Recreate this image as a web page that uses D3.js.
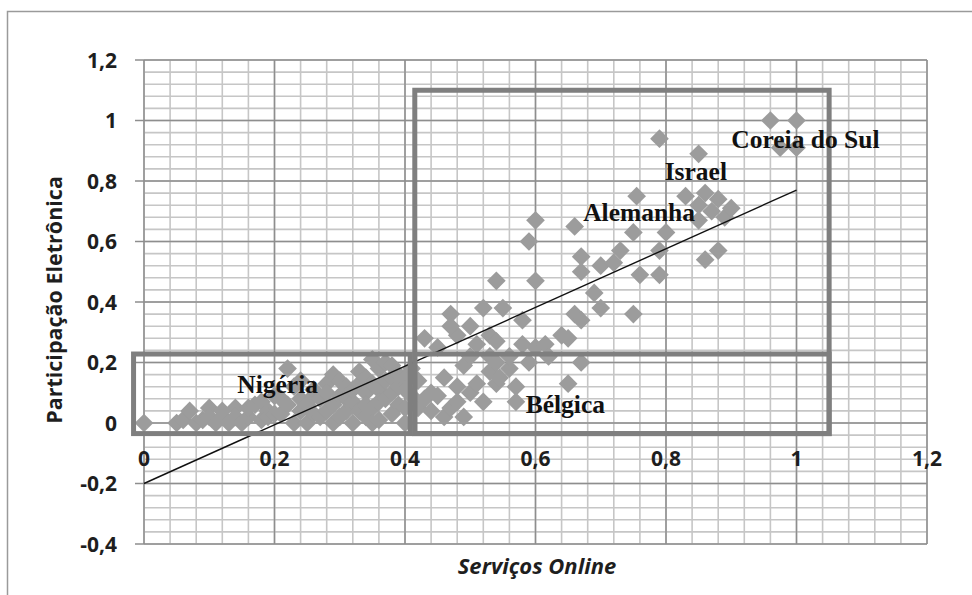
<!DOCTYPE html>
<html>
<head>
<meta charset="utf-8">
<script src="https://cdn.jsdelivr.net/npm/d3@7"></script>
<style>
  body { margin: 0; background: #fff; }
  svg { display: block; }
</style>
</head>
<body>
<div id="chart"></div>
<script>
// Ticks
const xTicks = [0, 0.2, 0.4, 0.6, 0.8, 1, 1.2];
const yTicks = [-0.4, -0.2, 0, 0.2, 0.4, 0.6, 0.8, 1, 1.2];

// Countries: [Serviços Online, Participação Eletrônica]
const points = [
  [0.00, 0.00], [0.05, 0.00], [0.06, 0.01], [0.07, 0.04], [0.08, 0.00], [0.09, 0.01],
  [0.10, 0.05], [0.10, 0.02], [0.11, 0.00], [0.12, 0.02], [0.12, 0.04], [0.13, 0.00],
  [0.14, 0.05], [0.14, 0.02], [0.15, 0.00], [0.16, 0.02], [0.16, 0.05], [0.17, 0.06],
  [0.18, 0.01], [0.18, 0.07], [0.19, 0.04], [0.19, 0.02], [0.20, 0.03], [0.20, 0.09],
  [0.21, 0.08], [0.21, 0.03], [0.22, 0.18], [0.22, 0.06], [0.23, 0.12], [0.23, 0.00],
  [0.24, 0.04], [0.24, 0.08], [0.24, 0.14], [0.25, 0.00], [0.25, 0.06], [0.26, 0.09],
  [0.26, 0.11], [0.26, 0.03], [0.27, 0.02], [0.27, 0.08], [0.28, 0.13], [0.28, 0.04],
  [0.28, 0.10], [0.29, 0.16], [0.29, 0.00], [0.29, 0.06], [0.30, 0.09], [0.30, 0.02],
  [0.30, 0.14], [0.31, 0.12], [0.31, 0.04], [0.31, 0.08], [0.32, 0.07], [0.32, 0.00],
  [0.32, 0.11], [0.33, 0.04], [0.33, 0.13], [0.33, 0.17], [0.34, 0.10], [0.34, 0.15],
  [0.34, 0.06], [0.34, 0.02], [0.35, 0.21], [0.35, 0.05], [0.35, 0.00], [0.35, 0.13],
  [0.36, 0.18], [0.36, 0.01], [0.36, 0.11], [0.36, 0.07], [0.37, 0.14], [0.37, 0.08],
  [0.37, 0.20], [0.38, 0.19], [0.38, 0.03], [0.38, 0.10], [0.38, 0.15], [0.39, 0.12],
  [0.39, 0.06], [0.39, 0.16], [0.40, 0.15], [0.40, 0.00], [0.40, 0.05], [0.40, 0.11],
  [0.41, 0.09], [0.41, 0.18],
  [0.42, 0.14], [0.42, 0.05], [0.43, 0.08], [0.44, 0.04], [0.43, 0.28], [0.44, 0.10],
  [0.45, 0.25], [0.45, 0.09], [0.46, 0.15], [0.46, 0.02], [0.47, 0.05], [0.48, 0.07],
  [0.48, 0.12], [0.48, 0.29], [0.49, 0.02], [0.49, 0.19], [0.47, 0.36], [0.47, 0.32],
  [0.50, 0.32], [0.50, 0.22], [0.50, 0.10], [0.51, 0.13], [0.51, 0.26], [0.52, 0.07],
  [0.52, 0.38], [0.53, 0.29], [0.53, 0.22], [0.53, 0.17], [0.54, 0.27], [0.54, 0.20],
  [0.54, 0.13], [0.545, 0.15], [0.55, 0.38], [0.54, 0.47], [0.56, 0.18], [0.56, 0.22],
  [0.57, 0.07], [0.57, 0.12], [0.58, 0.26], [0.58, 0.34], [0.59, 0.20], [0.60, 0.25],
  [0.60, 0.47], [0.59, 0.60], [0.60, 0.67], [0.615, 0.26], [0.62, 0.22], [0.64, 0.29],
  [0.65, 0.13], [0.65, 0.28], [0.67, 0.20], [0.66, 0.36], [0.67, 0.34], [0.69, 0.43],
  [0.70, 0.38], [0.67, 0.50], [0.70, 0.52], [0.67, 0.55], [0.72, 0.53], [0.66, 0.65],
  [0.75, 0.36], [0.73, 0.57], [0.75, 0.63], [0.76, 0.49], [0.755, 0.75], [0.79, 0.49],
  [0.79, 0.57], [0.80, 0.63], [0.79, 0.94], [0.83, 0.75], [0.85, 0.72], [0.86, 0.76],
  [0.88, 0.74], [0.87, 0.70], [0.89, 0.68], [0.85, 0.67], [0.90, 0.71], [0.86, 0.54],
  [0.88, 0.57], [0.85, 0.89], [0.96, 1.00], [1.00, 1.00], [0.975, 0.91], [1.00, 0.91]
];

// Linear trend
const trend = [[0, -0.2], [1.0, 0.77]];

// Highlight boxes [x0, x1, y0, y1]
const boxes = [
  [0.415, 1.05, -0.035, 1.10],
  [-0.016, 0.408, -0.035, 0.228],
  [0.415, 1.05, -0.035, 0.228]
];

// Country labels: text, x, y (left / baseline)
const labels = [
  ["Coreia do Sul", 0.900, 0.909],
  ["Israel", 0.798, 0.803],
  ["Alemanha", 0.673, 0.669],
  ["Nigéria", 0.143, 0.099],
  ["Bélgica", 0.585, 0.034]
];

const W = 972, H = 595;
const svg = d3.select('#chart').append('svg')
  .attr('width', W)
  .attr('height', H);

const x = d3.scaleLinear().domain([0, 1.2]).range([144, 927]);
const y = d3.scaleLinear().domain([-0.4, 1.2]).range([544, 60]);

const fmt = d => String(+d.toFixed(1)).replace('.', ',');
const sans = '"Open Sans", "Liberation Sans", sans-serif';

// outer chart border
svg.append('rect')
  .attr('x', 7.5).attr('y', 11.5)
  .attr('width', W).attr('height', H)
  .attr('fill', 'none')
  .attr('stroke', '#9a9a9a')
  .attr('stroke-width', 1.5);

// minor grid
const minorX = d3.range(0, 31).map(i => i * 0.04);
const minorY = d3.range(0, 41).map(i => -0.4 + i * 0.04);

svg.append('g').selectAll('line').data(minorX).join('line')
  .attr('x1', d => x(d)).attr('x2', d => x(d))
  .attr('y1', y(1.2)).attr('y2', y(-0.4))
  .attr('stroke', '#c6c6c6').attr('stroke-width', 1.6);

svg.append('g').selectAll('line').data(minorY).join('line')
  .attr('x1', x(0)).attr('x2', x(1.2))
  .attr('y1', d => y(d)).attr('y2', d => y(d))
  .attr('stroke', '#c6c6c6').attr('stroke-width', 1.6);

// major grid
svg.append('g').selectAll('line').data(xTicks).join('line')
  .attr('x1', d => x(d)).attr('x2', d => x(d))
  .attr('y1', y(1.2)).attr('y2', y(-0.4))
  .attr('stroke', '#8e8e8e').attr('stroke-width', 1.5);

svg.append('g').selectAll('line').data(yTicks).join('line')
  .attr('x1', x(0) - 9).attr('x2', x(1.2))
  .attr('y1', d => y(d)).attr('y2', d => y(d))
  .attr('stroke', '#8e8e8e').attr('stroke-width', 1.5);

// y tick labels
svg.append('g').selectAll('text').data(yTicks).join('text')
  .attr('x', 117)
  .attr('y', d => y(d) + 7.5)
  .attr('text-anchor', 'end')
  .attr('font-family', sans)
  .attr('font-weight', 'bold')
  .attr('font-size', '21px')
  .attr('fill', '#1e1e1e')
  .text(fmt);

// x tick labels
svg.append('g').selectAll('text').data(xTicks).join('text')
  .attr('x', d => x(d))
  .attr('y', 466)
  .attr('text-anchor', 'middle')
  .attr('font-family', sans)
  .attr('font-weight', 'bold')
  .attr('font-size', '21px')
  .attr('fill', '#1e1e1e')
  .text(fmt);

// points
const diamond = d3.symbol().type(d3.symbolSquare).size(175);
svg.append('g').selectAll('path').data(points).join('path')
  .attr('d', diamond)
  .attr('transform', d => `translate(${x(d[0])},${y(d[1])}) rotate(45)`)
  .attr('fill', '#9c9c9c');

// trend line
svg.append('path')
  .datum(trend)
  .attr('d', d3.line().x(d => x(d[0])).y(d => y(d[1])))
  .attr('stroke', '#111')
  .attr('stroke-width', 1.4)
  .attr('fill', 'none');

// boxes
svg.append('g').selectAll('rect').data(boxes).join('rect')
  .attr('x', d => x(d[0]))
  .attr('y', d => y(d[3]))
  .attr('width', d => x(d[1]) - x(d[0]))
  .attr('height', d => y(d[2]) - y(d[3]))
  .attr('fill', 'none')
  .attr('stroke', '#7f7f7f')
  .attr('stroke-width', 5);

// country labels
svg.append('g').selectAll('text').data(labels).join('text')
  .attr('x', d => x(d[1]))
  .attr('y', d => y(d[2]))
  .attr('font-family', '"Liberation Serif", "Times New Roman", serif')
  .attr('font-weight', 'bold')
  .attr('font-size', '25.5px')
  .attr('fill', '#111')
  .text(d => d[0]);

// axis titles
svg.append('text')
  .attr('transform', 'translate(62,300) rotate(-90)')
  .attr('text-anchor', 'middle')
  .attr('font-family', sans)
  .attr('font-weight', 'bold')
  .attr('font-size', '21.5px')
  .attr('fill', '#1e1e1e')
  .text('Participação Eletrônica');

svg.append('text')
  .attr('x', 537)
  .attr('y', 574)
  .attr('text-anchor', 'middle')
  .attr('font-family', sans)
  .attr('font-weight', 'bold')
  .attr('font-style', 'italic')
  .attr('font-size', '22px')
  .attr('fill', '#1e1e1e')
  .text('Serviços Online');
</script>
</body>
</html>
